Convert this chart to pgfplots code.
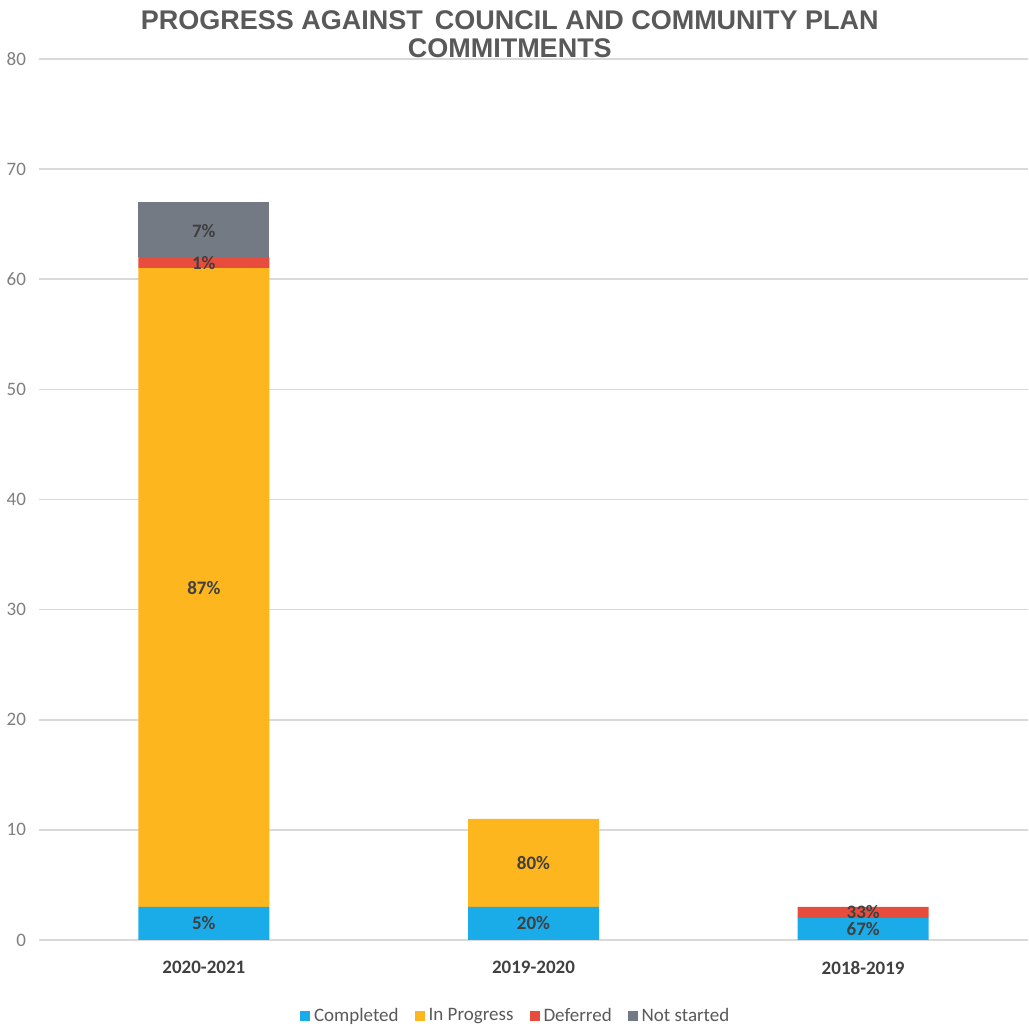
\documentclass[border=0pt]{standalone}
\usepackage{fontspec}
\setmainfont{Carlito}
\newfontfamily\titlefont{Liberation Sans}
\usepackage{pgfplots}
\pgfplotsset{compat=1.18}
\definecolor{cComp}{HTML}{1AABE9}
\definecolor{cProg}{HTML}{FDB61D}
\definecolor{cDef}{HTML}{E84C3D}
\definecolor{cNot}{HTML}{747A84}
\definecolor{gridgray}{HTML}{D9D9D9}
\definecolor{tickgray}{HTML}{7F7F7F}
\definecolor{labgray}{HTML}{404040}
\definecolor{titlegray}{HTML}{595959}
\begin{document}
\begin{tikzpicture}
\useasboundingbox (0,0) rectangle (514.5pt,514.5pt);
\begin{axis}[
  at={(19.5pt,44.5pt)}, anchor=south west,
  width=494.5pt, height=440.5pt, scale only axis,
  xmin=-0.5, xmax=2.5, ymin=0, ymax=80,
  ybar stacked, bar width=65.5pt,
  axis line style={draw=none}, major tick length=0pt,
  ymajorgrids, grid style={color=gridgray, line width=0.8pt},
  ytick={0,10,...,80},
  xtick={0,1,2}, xticklabels={2020-2021,2019-2020,2018-2019},
  yticklabel style={font=\fontsize{9.5}{11}\selectfont, text=tickgray, xshift=-3pt},
  xticklabel style={font=\fontsize{9.5}{11}\selectfont\bfseries, text=labgray, yshift=-7pt},
  /pgf/number format/assume math mode=true,
  title={PROGRESS AGAINST \,COUNCIL AND COMMUNITY PLAN\\COMMITMENTS},
  title style={at={(0.476,1.015)}, anchor=center, align=center,
    font=\titlefont\bfseries\fontsize{13.5}{14}\selectfont, text=titlegray},
  legend columns=-1,
  legend style={draw=none, at={(0.483,-0.0863)}, anchor=center,
    font=\fontsize{9.5}{11}\selectfont, text=titlegray,
    /tikz/every even column/.append style={column sep=6pt}},
]
\addplot[fill=cComp, draw=none, legend image code/.code={\fill[cComp] (0pt,-2.5pt) rectangle (5pt,2.5pt);}]
  coordinates {(0,3) (1,3) (2,2)};
\addplot[fill=cProg, draw=none, legend image code/.code={\fill[cProg] (0pt,-2.5pt) rectangle (5pt,2.5pt);}]
  coordinates {(0,58) (1,8) (2,0)};
\addplot[fill=cDef, draw=none, legend image code/.code={\fill[cDef] (0pt,-2.5pt) rectangle (5pt,2.5pt);}]
  coordinates {(0,1) (1,0) (2,1)};
\addplot[fill=cNot, draw=none, legend image code/.code={\fill[cNot] (0pt,-2.5pt) rectangle (5pt,2.5pt);}]
  coordinates {(0,5) (1,0) (2,0)};
\legend{Completed, In Progress, Deferred, Not started}
\end{axis}
\begin{axis}[
  at={(19.5pt,44.5pt)}, anchor=south west,
  width=494.5pt, height=440.5pt, scale only axis,
  xmin=-0.5, xmax=2.5, ymin=0, ymax=80, hide axis,
]
\addplot[draw=none, mark=none, point meta=explicit symbolic,
  nodes near coords={\pgfplotspointmeta\%},
  nodes near coords style={anchor=center, font=\fontsize{9.5}{11}\selectfont\bfseries, text=labgray}]
  table[meta=p, row sep=\\] {
  x y p\\
  0 1.5 5\\
  0 32 87\\
  0 61.5 1\\
  0 64.4 7\\
  1 1.5 20\\
  1 7 80\\
  2 1 67\\
  2 2.5 33\\
  };
\end{axis}
\end{tikzpicture}
\end{document}
